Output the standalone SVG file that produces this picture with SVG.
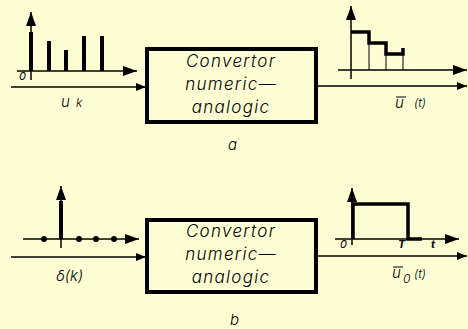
<svg xmlns="http://www.w3.org/2000/svg" width="468" height="329" viewBox="0 0 468 329">
<style>
.t{font-family:"Inter","DejaVu Sans","Liberation Sans",sans-serif;font-style:italic;font-weight:300;fill:#000}
.big{font-size:17px;letter-spacing:1.3px}
.b{font-weight:700}
.n{font-weight:400}
.box{fill:none;stroke:#000;stroke-width:4}
.ax{stroke:#000;stroke-width:1.5;fill:none}
.thin{stroke:#000;stroke-width:1;fill:none}
.stem{stroke:#000;stroke-width:4}
.thick{stroke:#000;stroke-width:3.5;fill:none}
</style>
<defs>
<marker id="ah" markerWidth="10" markerHeight="8" refX="10" refY="4" orient="auto" markerUnits="userSpaceOnUse">
<path d="M0,0 L10,4 L0,8 Z" fill="#000"/>
</marker>
<marker id="ahb" markerWidth="14" markerHeight="10" refX="14" refY="5" orient="auto" markerUnits="userSpaceOnUse">
<path d="M0,0 L14,5 L0,10 Z" fill="#000"/>
</marker>
</defs>
<rect width="468" height="329" fill="#FEFED4"/>

<g id="plot-uk">
<line class="ax" x1="17" y1="71" x2="137" y2="71" marker-end="url(#ahb)"/>
<line class="ax" x1="31" y1="80" x2="31" y2="12" marker-end="url(#ahb)"/>
<line class="stem" x1="31" y1="71" x2="31" y2="32"/>
<line class="stem" x1="49" y1="71" x2="49" y2="41"/>
<line class="stem" x1="66" y1="71" x2="66" y2="50"/>
<line class="stem" x1="84" y1="71" x2="84" y2="36"/>
<line class="stem" x1="102" y1="71" x2="102" y2="36"/>
<text class="t n" x="19" y="80" font-size="11">0</text>
</g>

<g id="box-a">
<rect class="box" x="147" y="49" width="169" height="73"/>
<text class="t big" x="231" y="67" text-anchor="middle">Convertor</text>
<text class="t big" x="231" y="90" text-anchor="middle">numeric—</text>
<text class="t big" x="231" y="113" text-anchor="middle">analogic</text>
</g>

<g id="plot-ut">
<line class="ax" x1="338" y1="70" x2="467" y2="70" marker-end="url(#ahb)"/>
<line class="ax" x1="351" y1="79" x2="351" y2="6" marker-end="url(#ahb)"/>
<polyline class="thick" points="351,32 369,32 369,43 386,43 386,54 403,54 403,48"/>
<line class="thin" x1="369" y1="43" x2="369" y2="70"/>
<line class="thin" x1="386" y1="54" x2="386" y2="70"/>
<line class="thin" x1="403" y1="54" x2="403" y2="70"/>
</g>

<g id="plot-delta">
<line class="ax" x1="23" y1="239" x2="139" y2="239" marker-end="url(#ahb)"/>
<line class="ax" x1="61" y1="248" x2="61" y2="186" marker-end="url(#ahb)"/>
<line class="stem" x1="61" y1="239" x2="61" y2="201"/>
<circle cx="44" cy="239" r="3"/>
<circle cx="79" cy="239" r="3"/>
<circle cx="96" cy="239" r="3"/>
<circle cx="114" cy="239" r="3"/>
</g>

<g id="box-b">
<rect class="box" x="147" y="220" width="169" height="72"/>
<text class="t big" x="231" y="237" text-anchor="middle">Convertor</text>
<text class="t big" x="231" y="260" text-anchor="middle">numeric—</text>
<text class="t big" x="231" y="283" text-anchor="middle">analogic</text>
</g>

<g id="plot-u0">
<line class="ax" x1="335" y1="239" x2="459" y2="239" marker-end="url(#ahb)"/>
<line class="ax" x1="352" y1="245" x2="352" y2="188" marker-end="url(#ahb)"/>
<polyline class="thick" points="353,239 353,204 408,204 408,239 422,239"/>
<text class="t n" x="340" y="248" font-size="11">0</text>
<text class="t b" x="398" y="248" font-size="11">T</text>
<text class="t b" x="431" y="248" font-size="11">t</text>
</g>

<g id="connectors">
<line class="ax" x1="11" y1="87" x2="146" y2="87" marker-end="url(#ah)"/>
<line class="ax" x1="317" y1="86" x2="467" y2="86" marker-end="url(#ah)"/>
<line class="ax" x1="11" y1="257" x2="146" y2="257" marker-end="url(#ah)"/>
<line class="ax" x1="317" y1="256" x2="467" y2="256" marker-end="url(#ah)"/>
</g>

<g id="labels">
<text class="t" x="61" y="107" font-size="15">u</text>
<text class="t" x="76" y="107" font-size="12">k</text>
<line class="thin" x1="396" y1="97" x2="406" y2="97"/>
<text class="t" x="395" y="108" font-size="15">u</text>
<text class="t" x="414" y="107" font-size="12">(t)</text>
<text class="t" x="228" y="150" font-size="15">a</text>
<text class="t" x="56" y="281" font-size="15">δ(k)</text>
<line class="thin" x1="393" y1="267" x2="403" y2="267"/>
<text class="t" x="392" y="278" font-size="15">u</text>
<text class="t" x="403" y="283" font-size="12">0</text>
<text class="t" x="414" y="278" font-size="12">(t)</text>
<text class="t" x="230" y="325" font-size="15">b</text>
</g>
</svg>
